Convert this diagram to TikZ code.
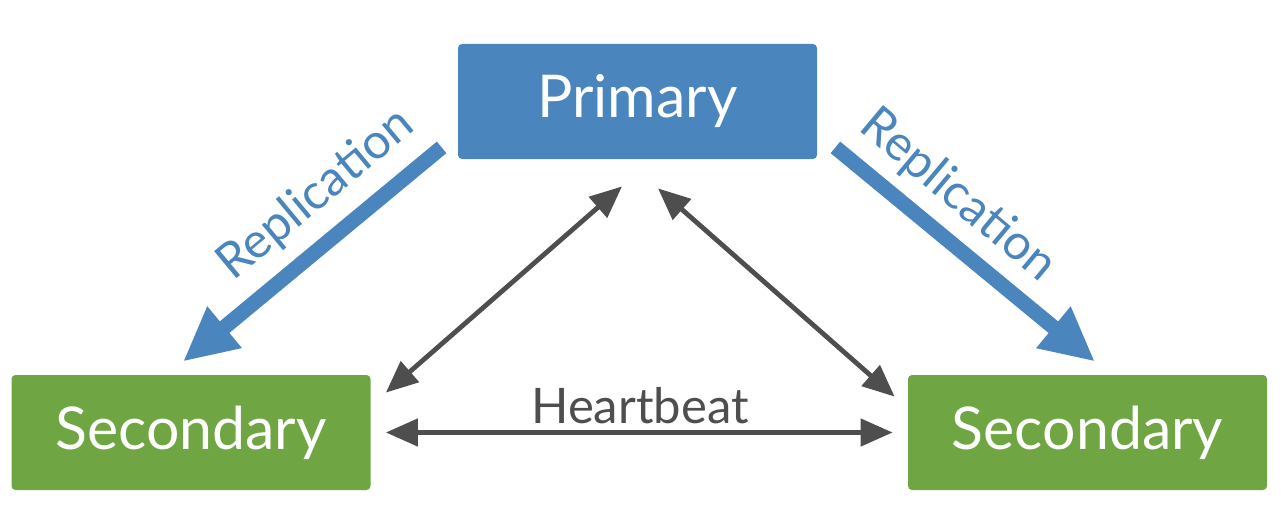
\documentclass[tikz,border=0pt]{standalone}
\usepackage{fontspec}
\setmainfont{Lato}
\usetikzlibrary{arrows.meta,calc}
\definecolor{pblue}{RGB}{74,134,189}
\definecolor{sgreen}{RGB}{111,166,67}
\definecolor{hgray}{RGB}{78,78,78}
\tikzset{
  boxnode/.style={rounded corners=2pt, minimum width=179.5pt, minimum height=57.5pt, inner sep=0pt, text=white, font=\fontsize{29.5}{32}\selectfont},
  primbox/.style={boxnode, fill=pblue},
  secbox/.style={boxnode, fill=sgreen},
  hbarrow/.style={draw=hgray, line width=2.4pt, {Triangle[length=16pt,width=13.5pt]}-{Triangle[length=16pt,width=13.5pt]}},
  reparrow/.style={draw=pblue, line width=7.5pt, -{Triangle[length=27pt,width=25pt]}},
  replabel/.style={text=pblue, font=\fontsize{24.5}{28}\selectfont, inner sep=0pt},
  hblabel/.style={text=hgray, font=\fontsize{24.5}{28}\selectfont, inner sep=0pt}
}
\begin{document}
\begin{tikzpicture}[x=0.5pt,y=-0.5pt]
\useasboundingbox (0,0) rectangle (1288,524);
\node[primbox] (p) at (637.5,101.5) {Primary};
\node[secbox] (sl) at (191,432.5) {Secondary};
\node[secbox] (sr) at (1087.5,432.5) {Secondary};
% replication arrows
\draw[reparrow] ($(p.south west)+(-16,-12)$) -- ($(sl.north)+(-8,-13)$);
\draw[reparrow] ($(p.south east)+(18,-12)$) -- ($(sr.north)+(7.5,-13)$);
\node[replabel, rotate=39.7] (rl) at (316,195) {Replication};
\node[replabel, rotate=-40] (rr) at (958,196) {Replication};
% heartbeat arrows
\draw[hbarrow] ($(sl.east)+(15,0)$) -- ($(sr.west)+(-15,0)$);
\draw[hbarrow] ($(p.south)+(-15.5,27)$) -- ($(sl.north east)+(15,18)$);
\draw[hbarrow] ($(p.south)+(20.5,29)$) -- ($(sr.north west)+(-13,22)$);
\node[hblabel] (hb) at (640,406) {Heartbeat};
\end{tikzpicture}
\end{document}
